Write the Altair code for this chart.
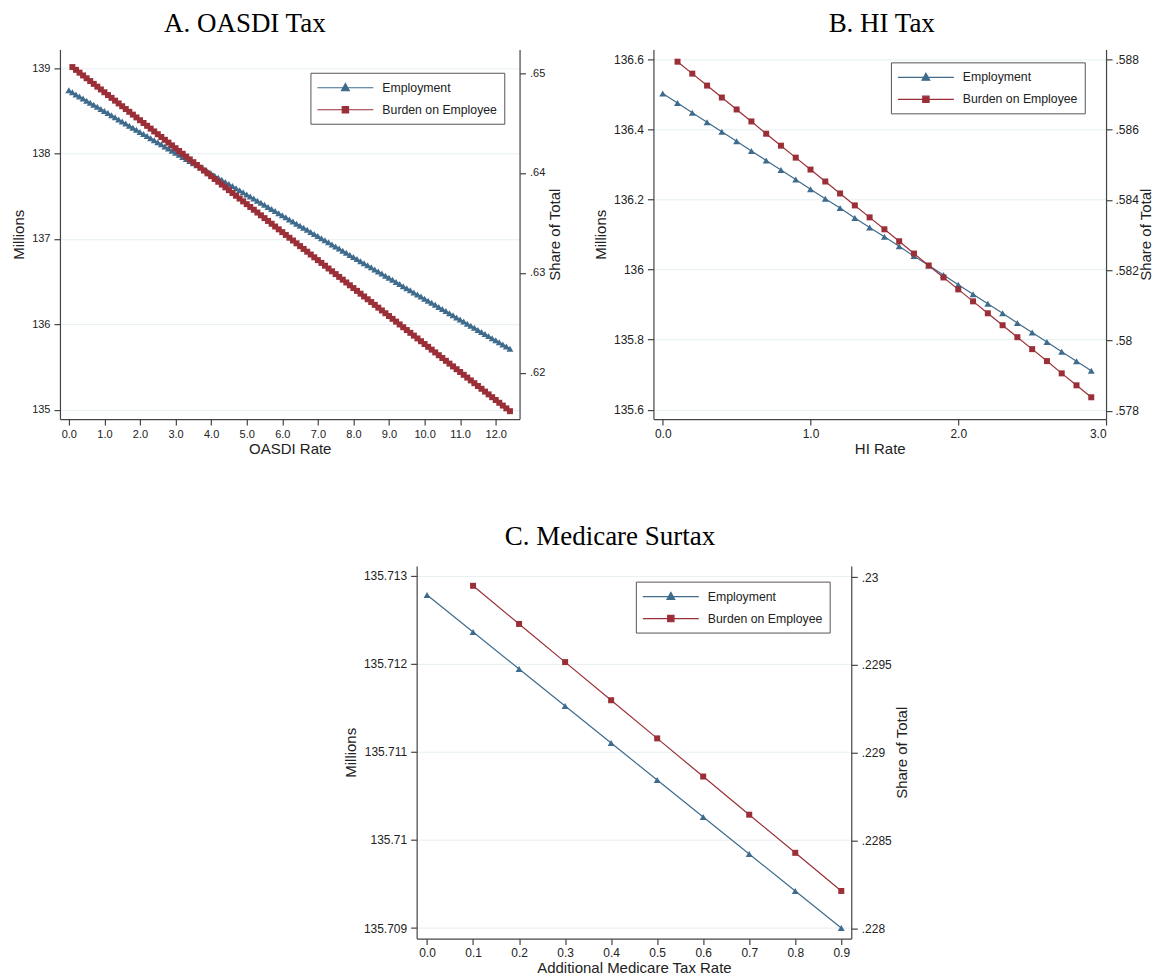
import altair as alt
import pandas as pd

SERIES = ["Employment", "Burden on Employee"]
BLUE = "#3f6b8c"
RED = "#9b2f38"
TXT = "#222222"
FONT = "Liberation Sans"
SERIF = "Liberation Serif"
# legend symbols: a line segment with the marker in the middle
TRI_PATH = "M-4,0H4M0,-0.6L0.55,0.4L-0.55,0.4Z"
SQR_PATH = "M-4,0H4M-0.45,-0.45H0.45V0.45H-0.45Z"

# ---------------- Panel A: OASDI Tax ----------------
RATES_A = [
    0.0, 0.1, 0.2, 0.3, 0.4, 0.5, 0.6, 0.7, 0.8, 0.9,
    1.0, 1.1, 1.2, 1.3, 1.4, 1.5, 1.6, 1.7, 1.8, 1.9,
    2.0, 2.1, 2.2, 2.3, 2.4, 2.5, 2.6, 2.7, 2.8, 2.9,
    3.0, 3.1, 3.2, 3.3, 3.4, 3.5, 3.6, 3.7, 3.8, 3.9,
    4.0, 4.1, 4.2, 4.3, 4.4, 4.5, 4.6, 4.7, 4.8, 4.9,
    5.0, 5.1, 5.2, 5.3, 5.4, 5.5, 5.6, 5.7, 5.8, 5.9,
    6.0, 6.1, 6.2, 6.3, 6.4, 6.5, 6.6, 6.7, 6.8, 6.9,
    7.0, 7.1, 7.2, 7.3, 7.4, 7.5, 7.6, 7.7, 7.8, 7.9,
    8.0, 8.1, 8.2, 8.3, 8.4, 8.5, 8.6, 8.7, 8.8, 8.9,
    9.0, 9.1, 9.2, 9.3, 9.4, 9.5, 9.6, 9.7, 9.8, 9.9,
    10.0, 10.1, 10.2, 10.3, 10.4, 10.5, 10.6, 10.7, 10.8, 10.9,
    11.0, 11.1, 11.2, 11.3, 11.4, 11.5, 11.6, 11.7, 11.8, 11.9,
    12.0, 12.1, 12.2, 12.3, 12.4,
]
EMP_A = [
    138.740, 138.716, 138.691, 138.667, 138.642, 138.618, 138.594, 138.569, 138.545, 138.520,
    138.496, 138.472, 138.447, 138.423, 138.398, 138.374, 138.350, 138.325, 138.301, 138.276,
    138.252, 138.228, 138.203, 138.179, 138.154, 138.130, 138.106, 138.081, 138.057, 138.032,
    138.008, 137.984, 137.959, 137.935, 137.910, 137.886, 137.862, 137.837, 137.813, 137.788,
    137.764, 137.740, 137.715, 137.691, 137.666, 137.642, 137.618, 137.593, 137.569, 137.544,
    137.520, 137.496, 137.471, 137.447, 137.422, 137.398, 137.374, 137.349, 137.325, 137.300,
    137.276, 137.252, 137.227, 137.203, 137.178, 137.154, 137.130, 137.105, 137.081, 137.056,
    137.032, 137.008, 136.983, 136.959, 136.934, 136.910, 136.886, 136.861, 136.837, 136.812,
    136.788, 136.764, 136.739, 136.715, 136.690, 136.666, 136.642, 136.617, 136.593, 136.568,
    136.544, 136.520, 136.495, 136.471, 136.446, 136.422, 136.398, 136.373, 136.349, 136.324,
    136.300, 136.276, 136.251, 136.227, 136.202, 136.178, 136.154, 136.129, 136.105, 136.080,
    136.056, 136.032, 136.007, 135.983, 135.958, 135.934, 135.910, 135.885, 135.861, 135.836,
    135.812, 135.788, 135.763, 135.739, 135.714,
]
BUR_A = [
    0.65060, 0.65032, 0.65004, 0.64976, 0.64948, 0.64920, 0.64892, 0.64864, 0.64836, 0.64808,
    0.64780, 0.64752, 0.64724, 0.64696, 0.64668, 0.64640, 0.64612, 0.64584, 0.64556, 0.64528,
    0.64500, 0.64472, 0.64444, 0.64416, 0.64388, 0.64360, 0.64332, 0.64304, 0.64276, 0.64248,
    0.64220, 0.64192, 0.64164, 0.64136, 0.64108, 0.64080, 0.64052, 0.64024, 0.63996, 0.63968,
    0.63940, 0.63912, 0.63884, 0.63856, 0.63828, 0.63800, 0.63772, 0.63744, 0.63716, 0.63688,
    0.63660, 0.63632, 0.63604, 0.63576, 0.63548, 0.63520, 0.63492, 0.63464, 0.63436, 0.63408,
    0.63380, 0.63352, 0.63324, 0.63296, 0.63268, 0.63240, 0.63212, 0.63184, 0.63156, 0.63128,
    0.63100, 0.63072, 0.63044, 0.63016, 0.62988, 0.62960, 0.62932, 0.62904, 0.62876, 0.62848,
    0.62820, 0.62792, 0.62764, 0.62736, 0.62708, 0.62680, 0.62652, 0.62624, 0.62596, 0.62568,
    0.62540, 0.62512, 0.62484, 0.62456, 0.62428, 0.62400, 0.62372, 0.62344, 0.62316, 0.62288,
    0.62260, 0.62232, 0.62204, 0.62176, 0.62148, 0.62120, 0.62092, 0.62064, 0.62036, 0.62008,
    0.61980, 0.61952, 0.61924, 0.61896, 0.61868, 0.61840, 0.61812, 0.61784, 0.61756, 0.61728,
    0.61700, 0.61672, 0.61644, 0.61616,
]
XTICKS_A = [0.0, 1.0, 2.0, 3.0, 4.0, 5.0, 6.0, 7.0, 8.0, 9.0, 10.0, 11.0, 12.0]
YL_TICKS_A = [135, 136, 137, 138, 139]
YR_TICKS_A = [0.62, 0.63, 0.64, 0.65]

# ---------------- Panel B: HI Tax ----------------
RATES_B = [
    0.0, 0.1, 0.2, 0.3, 0.4, 0.5, 0.6, 0.7, 0.8, 0.9,
    1.0, 1.1, 1.2, 1.3, 1.4, 1.5, 1.6, 1.7, 1.8, 1.9,
    2.0, 2.1, 2.2, 2.3, 2.4, 2.5, 2.6, 2.7, 2.8, 2.9,
]
EMP_B = [
    136.502, 136.475, 136.447, 136.420, 136.393, 136.366, 136.338, 136.311, 136.284, 136.257,
    136.229, 136.202, 136.175, 136.147, 136.120, 136.093, 136.066, 136.038, 136.011, 135.984,
    135.956, 135.929, 135.902, 135.875, 135.847, 135.820, 135.793, 135.765, 135.738, 135.711,
]
BUR_B = [
    0.58793, 0.58759, 0.58725, 0.58691, 0.58657, 0.58623, 0.58588, 0.58554, 0.58520, 0.58486,
    0.58452, 0.58418, 0.58384, 0.58350, 0.58316, 0.58282, 0.58247, 0.58213, 0.58179, 0.58145,
    0.58111, 0.58077, 0.58043, 0.58009, 0.57975, 0.57941, 0.57906, 0.57872, 0.57838,
]
XTICKS_B = [0.0, 1.0, 2.0, 3.0]
YL_TICKS_B = [135.6, 135.8, 136.0, 136.2, 136.4, 136.6]
YR_TICKS_B = [0.578, 0.580, 0.582, 0.584, 0.586, 0.588]

# ---------------- Panel C: Medicare Surtax ----------------
RATES_C = [0.0, 0.1, 0.2, 0.3, 0.4, 0.5, 0.6, 0.7, 0.8, 0.9]
EMP_C = [
    135.71278, 135.71236, 135.71194, 135.71152, 135.71110,
    135.71068, 135.71026, 135.70984, 135.70942, 135.70900,
]
BUR_C = [
    0.229950, 0.229733, 0.229516, 0.229299, 0.229082,
    0.228865, 0.228648, 0.228431, 0.228214,
]
XTICKS_C = [0.0, 0.1, 0.2, 0.3, 0.4, 0.5, 0.6, 0.7, 0.8, 0.9]
YL_TICKS_C = [135.709, 135.710, 135.711, 135.712, 135.713]
YR_TICKS_C = [0.228, 0.2285, 0.229, 0.2295, 0.230]


def panel(rates_e, emp, rates_b, bur, x_dom, x_ticks, x_title, yl_dom, yl_ticks,
          yr_dom, yr_ticks, width, height, title, title_dx, title_offset, lab_size,
          leg_x, leg_y, r_title_pad, r_label_pad):
    emp_df = pd.DataFrame({"rate": rates_e, "value": emp, "series": SERIES[0]})
    bur_df = pd.DataFrame({"rate": rates_b, "value": bur, "series": SERIES[1]})
    leg_df = pd.DataFrame({"rate": [x_dom[0] - 100.0] * 2,
                           "value": [yl_dom[0]] * 2, "series": SERIES})

    x = alt.X("rate:Q",
              scale=alt.Scale(domain=x_dom, nice=False, zero=False),
              axis=alt.Axis(values=x_ticks, format=".1f", title=x_title, grid=False,
                            labelFontSize=lab_size, labelPadding=3, titlePadding=2))
    yl = alt.Y("value:Q",
               scale=alt.Scale(domain=yl_dom, nice=False, zero=False),
               axis=alt.Axis(orient="left", values=yl_ticks, format="~g", title="Millions",
                             grid=True, labelFontSize=lab_size, titlePadding=5))
    yr = alt.Y("value:Q",
               scale=alt.Scale(domain=yr_dom, nice=False, zero=False),
               axis=alt.Axis(orient="right", values=yr_ticks,
                             labelExpr="substring(format(datum.value, '~g'), 1)",
                             title="Share of Total", grid=False, titleAngle=270,
                             titleBaseline="top", labelFontSize=lab_size,
                             labelPadding=r_label_pad, titlePadding=r_title_pad))

    leg = alt.Legend(title=None, orient="none", legendX=leg_x, legendY=leg_y,
                     symbolSize=196, symbolStrokeWidth=1.2, symbolOffset=20,
                     labelOffset=29, labelFont=FONT, labelFontSize=12.3, labelColor=TXT,
                     padding=7, rowPadding=7, strokeColor="#555555", fillColor="white")

    emp_line = alt.Chart(emp_df).mark_line(color=BLUE, strokeWidth=1.2).encode(x=x, y=yl)
    emp_pts = alt.Chart(emp_df).mark_point(shape="triangle-up", filled=True, size=48,
                                           color=BLUE, opacity=1).encode(x=x, y=yl)
    legend_layer = alt.Chart(leg_df).mark_point(filled=True, clip=True, opacity=1,
                                                strokeWidth=1.2).encode(
        x=x, y=yl,
        fill=alt.Fill("series:N", scale=alt.Scale(domain=SERIES, range=[BLUE, RED]), legend=leg),
        stroke=alt.Stroke("series:N", scale=alt.Scale(domain=SERIES, range=[BLUE, RED]), legend=leg),
        shape=alt.Shape("series:N", scale=alt.Scale(domain=SERIES, range=[TRI_PATH, SQR_PATH]), legend=leg),
    )
    bur_line = alt.Chart(bur_df).mark_line(color=RED, strokeWidth=1.2).encode(x=x, y=yr)
    bur_pts = alt.Chart(bur_df).mark_point(shape="square", filled=True, size=36,
                                           color=RED, opacity=1).encode(x=x, y=yr)

    left = alt.layer(emp_line, emp_pts, legend_layer)
    right = alt.layer(bur_line, bur_pts)
    return alt.layer(left, right).resolve_scale(y="independent").properties(
        width=width, height=height,
        title=alt.TitleParams(title, font=SERIF, fontSize=27, fontWeight="normal",
                              color="black", anchor="middle", frame="group",
                              dx=title_dx, offset=title_offset),
    )


A = panel(RATES_A, EMP_A, RATES_A[1:], BUR_A, [-0.25, 12.67], XTICKS_A, "OASDI Rate",
          [134.89, 139.218], YL_TICKS_A, [0.61537, 0.65237], YR_TICKS_A,
          460, 370, "A. OASDI Tax", -45, 11, 11, 250.7, 23.4, 3, 4)
B = panel(RATES_B, EMP_B, RATES_B[1:], BUR_B, [-0.063, 3.0], XTICKS_B, "HI Rate",
          [135.573, 136.628], YL_TICKS_B, [0.57776, 0.58828], YR_TICKS_B,
          453, 370, "B. HI Tax", 2, 11, 12, 237.7, 13, 0, 3)
C = panel(RATES_C, EMP_C, RATES_C[1:], BUR_C, [-0.0226, 0.9217], XTICKS_C,
          "Additional Medicare Tax Rate",
          [135.70888, 135.71311], YL_TICKS_C, [0.227943, 0.230063], YR_TICKS_C,
          435, 373, "C. Medicare Surtax", -24, 15, 12, 219.4, 15.7, 3, 4)

spacer = alt.Chart(pd.DataFrame({"v": [0]})).mark_point(opacity=0).encode(
    x=alt.value(0), y=alt.value(0)).properties(width=283, height=1)

ind = dict(fill="independent", stroke="independent", shape="independent")
top = alt.hconcat(A, B, spacing=29).resolve_scale(**ind)
bottom = alt.hconcat(spacer, C, spacing=0).resolve_scale(**ind)
chart = alt.vconcat(top, bottom, spacing=67).resolve_scale(**ind).properties(
    padding={"left": 3, "top": 2, "right": 0, "bottom": 0}
).configure_view(stroke=None).configure_axis(
    labelFont=FONT, labelColor=TXT, titleFont=FONT, titleFontSize=15,
    titleFontWeight="normal", titleColor=TXT, domainColor="#444444", domainWidth=1.2,
    tickColor="#444444", tickSize=6, tickWidth=1.2, labelPadding=4,
    gridColor="#e6eff1", gridWidth=1,
)

chart.save("out.html", embed_options={"renderer": "svg", "actions": False})
